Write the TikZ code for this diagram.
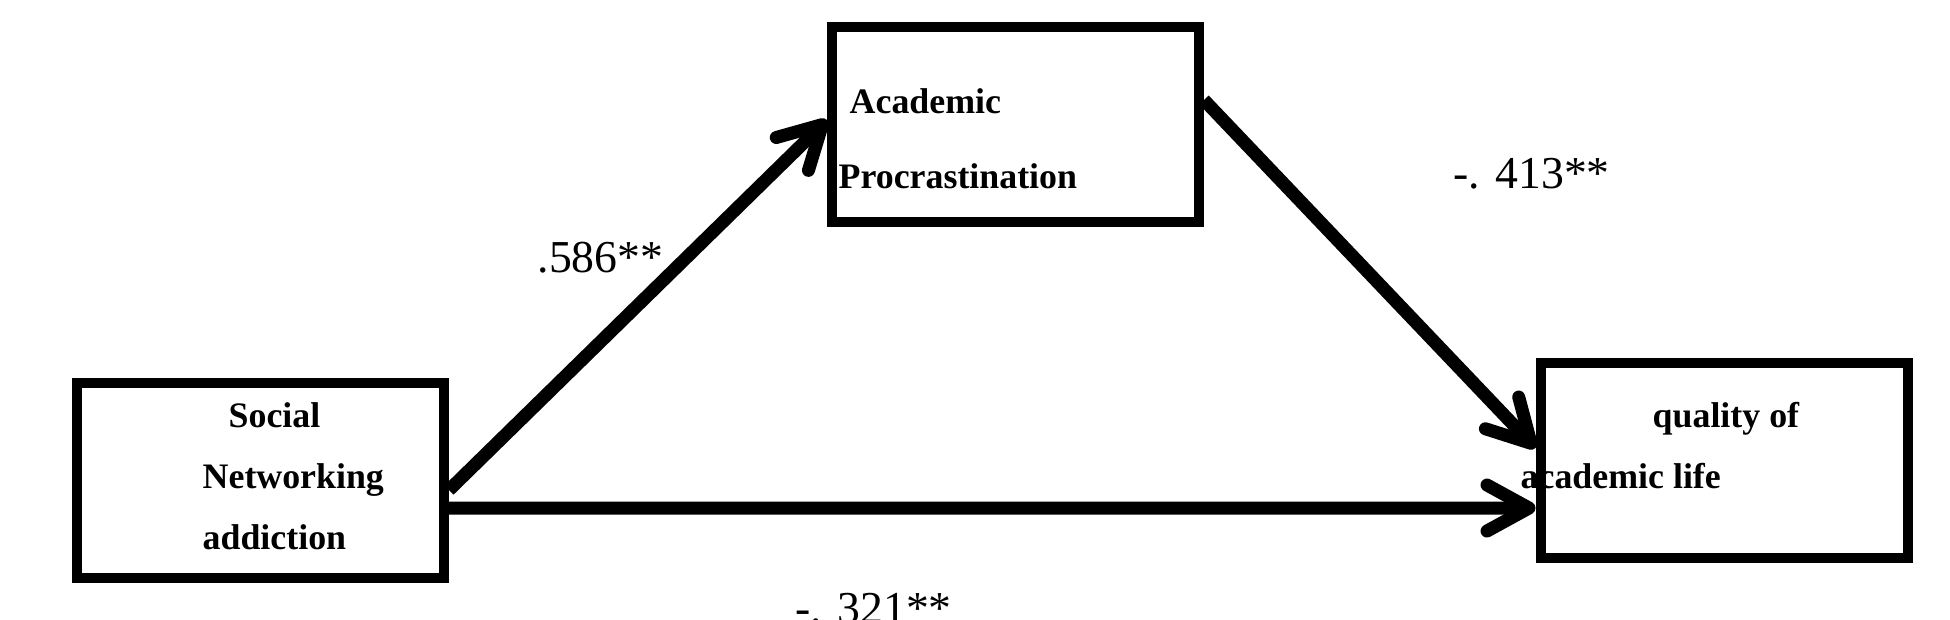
\documentclass[tikz,border=0pt]{standalone}
\usepackage{fontspec}
\setmainfont{Liberation Serif}
\usetikzlibrary{arrows.meta}
\begin{document}
\begin{tikzpicture}
[x=0.1mm,y=-0.1mm,
 box/.style={rectangle,draw=black,line width=1mm,minimum width=36.7mm,minimum height=19.5mm,inner sep=0pt},
 boxtext/.style={anchor=base west,align=left,inner sep=0pt,font=\fontsize{10.2}{17.3}\selectfont\bfseries},
 coef/.style={anchor=base west,inner sep=0pt,font=\fontsize{13}{15}\selectfont},
 arr/.style={draw=black,line width=1.3mm,-{Straight Barb[length=4.2mm,width=4.6mm,round]}}]
\useasboundingbox (0,0) rectangle (1950,619);
\node [box] (snet) at (260.5,480.5) {};
\node [box] (aproc) at (1015.5,124.5) {};
\node [box] (qal) at (1724,460) {};
\draw [arr] ([yshift=-0.95mm]snet.east) -- ([yshift=0.45mm]aproc.west);
\draw [arr] ([yshift=2.45mm]aproc.east) -- ([yshift=1.2mm]qal.west);
\draw [arr] ([yshift=-2.75mm]snet.east) -- ([yshift=-4.8mm]qal.west);
\node [boxtext] (snettxt) at (202,549) {\hspace*{2.6mm}Social\\Networking\\addiction};
\node [boxtext] (aproctxt) at (838,188) {\hspace*{1.1mm}Academic\\[4pt]Procrastination};
\node [boxtext] (qaltxt) at (1520,488) {\hspace*{13.2mm}quality of\\academic life};
\node [coef] (cfa) at (537,272) {.586**};
\node [coef] (cfb) at (1453,188) {-. 413**};
\node [coef] (cfc) at (795,623) {-. 321**};
\end{tikzpicture}
\end{document}
